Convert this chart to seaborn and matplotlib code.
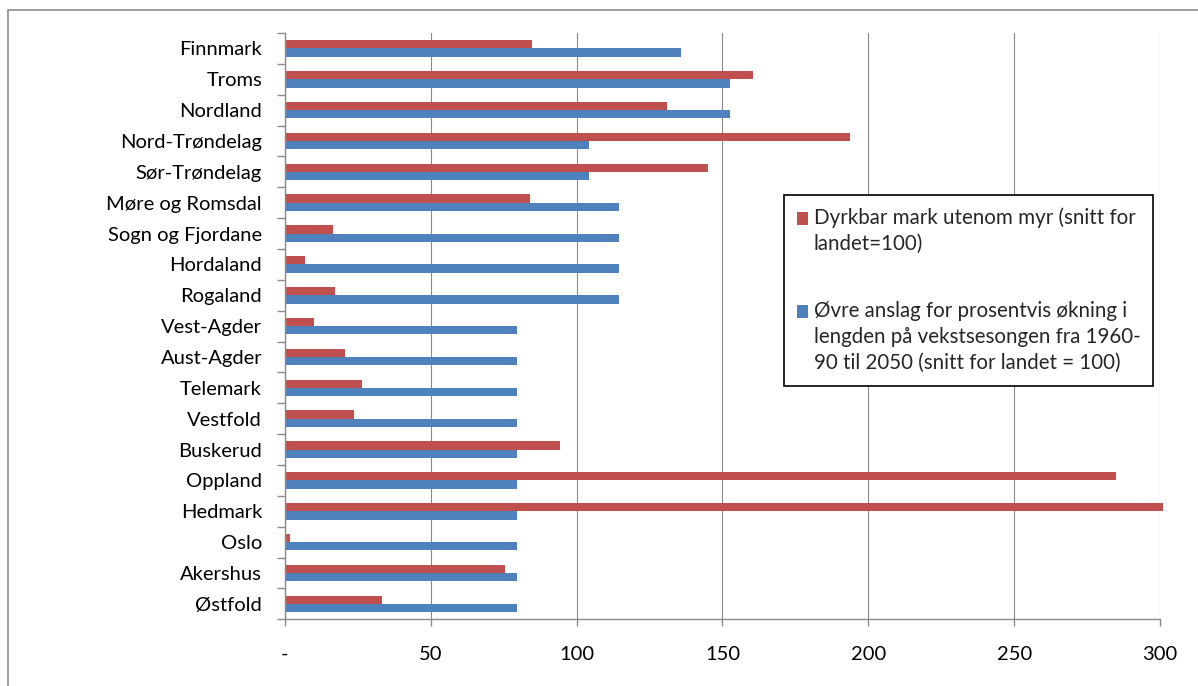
import matplotlib
matplotlib.use("Agg")
import matplotlib.pyplot as plt
from matplotlib.patches import Rectangle
from matplotlib.legend_handler import HandlerPatch
import seaborn as sns
import numpy as np
import pandas as pd

# data (snitt for landet = 100)
fylker = ["Finnmark", "Troms", "Nordland", "Nord-Trøndelag", "Sør-Trøndelag",
          "Møre og Romsdal", "Sogn og Fjordane", "Hordaland", "Rogaland",
          "Vest-Agder", "Aust-Agder", "Telemark", "Vestfold", "Buskerud",
          "Oppland", "Hedmark", "Oslo", "Akershus", "Østfold"]
dyrkbar = [84.6, 160.5, 131.1, 193.8, 144.9, 84.0, 16.6, 6.9, 17.3, 9.8,
           20.7, 26.4, 23.6, 94.3, 284.8, 301.0, 1.7, 75.4, 33.4]
vekstsesong = [135.8, 152.4, 152.4, 104.1, 104.1, 114.4, 114.4, 114.4, 114.4, 79.4,
               79.4, 79.4, 79.4, 79.4, 79.4, 79.4, 79.4, 79.4, 79.4]
serier = ["Dyrkbar mark utenom myr (snitt for\nlandet=100)",
          "Øvre anslag for prosentvis økning i\nlengden på vekstsesongen fra 1960-\n90 til 2050 (snitt for landet = 100)"]
xticks = [0, 50, 100, 150, 200, 250, 300]
xticklabels = ["-", "50", "100", "150", "200", "250", "300"]

RED = "#C0504D"
BLUE = "#4F81BD"
GRID = "#8a8a8a"

df = pd.DataFrame({
    "Fylke": fylker * 2,
    "Verdi": dyrkbar + vekstsesong,
    "Serie": [serier[0]] * len(fylker) + [serier[1]] * len(fylker),
})


class TopSquare(HandlerPatch):
    """Legend square lifted towards the first line of a multi-line label."""
    def __init__(self, lift):
        super().__init__()
        self.lift = lift

    def create_artists(self, legend, orig_handle, xdescent, ydescent,
                       width, height, fontsize, trans):
        p = Rectangle((-xdescent, -ydescent + self.lift * fontsize), width, height)
        self.update_prop(p, orig_handle, legend)
        p.set_transform(trans)
        return [p]


sns.set_style("white")
plt.rcParams["font.family"] = ["Lato", "DejaVu Sans"]
FS = 14.5
LEG_FS = 14.8

fig, ax = plt.subplots(figsize=(11.98, 6.86), dpi=100)
fig.subplots_adjust(left=285 / 1198, right=1160 / 1198, top=1 - 33 / 686, bottom=1 - 619.3 / 686)

sns.barplot(data=df, y="Fylke", x="Verdi", hue="Serie", hue_order=serier,
            order=fylker, palette=[RED, BLUE], orient="h", width=0.54,
            saturation=1, linewidth=0, errorbar=None, ax=ax)

for bar in ax.patches:
    bar.set_clip_on(False)

ax.set_xlim(0, 300)
ax.set_ylim(len(fylker) - 0.5, -0.5)
ax.set_xticks(xticks)
ax.set_xticklabels(xticklabels, fontsize=FS)
ax.set_yticks(range(len(fylker)))
ax.set_yticklabels(fylker, fontsize=FS)
ax.set_yticks(np.arange(-0.5, len(fylker), 1), minor=True)
ax.set_xlabel("")
ax.set_ylabel("")

ax.grid(axis="x", color=GRID, linewidth=0.8)
ax.set_axisbelow(True)
for side in ["top", "right"]:
    ax.spines[side].set_visible(False)
for side in ["left", "bottom"]:
    ax.spines[side].set_color(GRID)
    ax.spines[side].set_linewidth(1.0)

ax.tick_params(axis="y", which="major", length=0, pad=16.5, labelcolor="black")
ax.tick_params(axis="y", which="minor", left=True, length=6, width=1.0,
               color=GRID, direction="out")
ax.tick_params(axis="x", which="major", bottom=True, length=5, width=1.0,
               color=GRID, direction="out", pad=14, labelcolor="black")

handles, labels = ax.get_legend_handles_labels()
ax.get_legend().remove()
leg = ax.legend(handles, labels, loc="upper left",
                bbox_to_anchor=(784 / 1198, 1 - 195 / 686),
                bbox_transform=fig.transFigure, borderaxespad=0,
                fontsize=LEG_FS, frameon=True, fancybox=False, framealpha=1,
                edgecolor="black", handlelength=0.53, handleheight=0.53,
                handletextpad=0.3, borderpad=0.62, labelspacing=2.3,
                handler_map={handles[0]: TopSquare(0.64), handles[1]: TopSquare(1.28)})
leg.get_frame().set_linewidth(1.2)
for t in leg.get_texts():
    t.set_linespacing(1.36)

# outer chart border
fig.patches.append(Rectangle((7.6 / 1198, -0.1), 1.2, 1.1 - 10.3 / 686,
                             transform=fig.transFigure, fill=False,
                             edgecolor="#8c8c8c", linewidth=1.2))

fig.savefig("out.png", dpi=100)
plt.close(fig)
